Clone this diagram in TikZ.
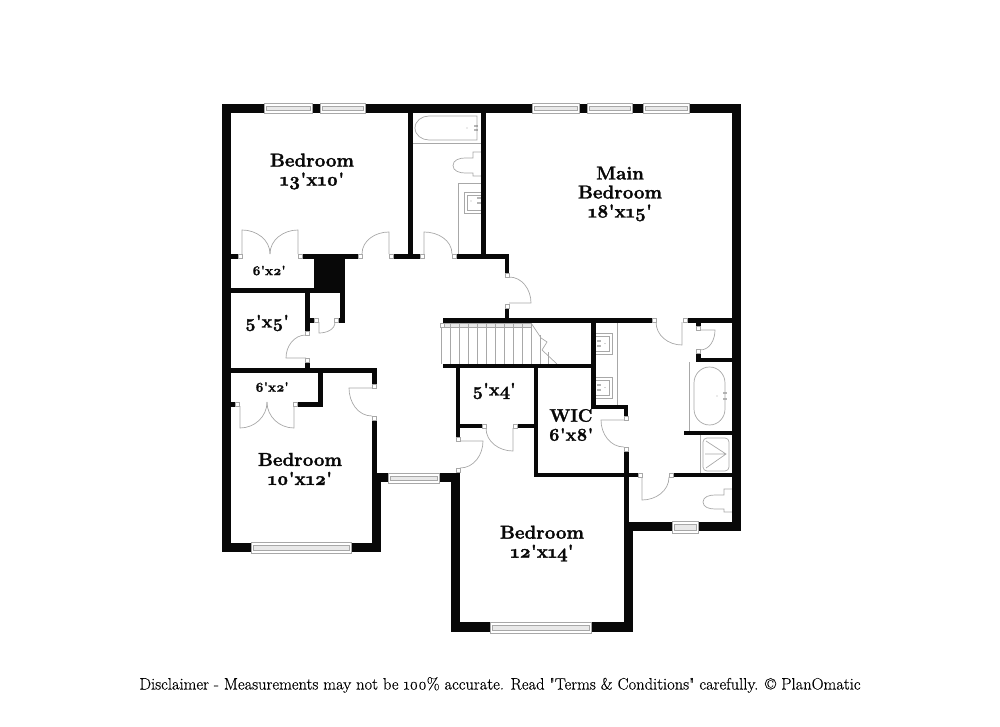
\documentclass[tikz,border=0pt]{standalone}
\usepackage{fontspec}
\newfontfamily\planfont[Numbers=OldStyle,BoldFeatures={FakeBold=1.6}]{Latin Modern Roman}
\newfontfamily\notefont[Numbers=OldStyle,FakeBold=0.35]{Latin Modern Roman}
\definecolor{WallClr}{rgb}{0.03,0.03,0.03}
\definecolor{FixClr}{rgb}{0.66,0.66,0.66}
\tikzset{
  wall/.style={fill=WallClr},
  fixture/.style={draw=FixClr,line width=0.7pt},
  leaf/.style={draw=FixClr,line width=0.7pt},
  jamb/.style={draw=FixClr,line width=0.5pt,fill=white},
  bigname/.style={font=\planfont\bfseries\fontsize{18.7}{19}\selectfont,align=center,text=WallClr,inner sep=0pt},
  midname/.style={font=\planfont\bfseries\fontsize{18}{19}\selectfont,align=center,text=WallClr,inner sep=0pt},
  smallname/.style={font=\planfont\bfseries\fontsize{13.5}{14}\selectfont,align=center,text=WallClr,inner sep=0pt}
}

\begin{document}
\begin{tikzpicture}[x=1pt,y=-1pt]
\useasboundingbox (0,0) rectangle (1000,727);

% fixtures under the walls
\draw[fixture] (412,143) -- (481,143);
\draw[fixture] (477,116) -- (429,116) to[out=180,in=90] (415,128) to[out=-90,in=180] (429,140) -- (477,140) -- cycle;
\draw[fixture] (481,152) -- (473,152) -- (473,158) -- (465,158) to[out=180,in=90] (453,165.5) to[out=-90,in=180] (465,173) -- (473,173) -- (473,176) -- (481,176);
\draw[fixture] (481,183) -- (458,183) -- (458,255);
\draw[fixture] (481,192) -- (464,192) -- (464,213) -- (481,213);
\draw[fixture] (481,195) -- (467,195) -- (467,210) -- (481,210);
\draw[fixture,line width=1pt] (617.5,322) -- (617.5,405);
\foreach \sy in {333,377}{
  \draw[fixture] (596,\sy) -- (612,\sy) -- (612,\sy+21) -- (596,\sy+21);
  \draw[fixture] (596,\sy+3) -- (609,\sy+3) -- (609,\sy+18) -- (596,\sy+18);
  \fill[FixClr] (605,\sy+10.5) circle (0.7);
  \fill[WallClr!60] (598,\sy+8) circle (0.8) (600,\sy+8) circle (0.8) (598,\sy+13) circle (0.8) (600,\sy+13) circle (0.8);
}
\foreach \dx/\dy in {475/126,477/126,475/130,477/130,478/198,480/198,478/203,480/203,724/393,726/393,724/399,726/399}{
  \fill[WallClr!60] (\dx,\dy) circle (0.8);
}
\fill[FixClr] (467,128) circle (0.7) (471,201) circle (0.7) (717,396) circle (0.7);
\draw[fixture] (689,431) -- (689,362) (689,431) -- (732,431);
\draw[fixture] (694,383) to[out=90,in=180] (709.5,367) to[out=0,in=90] (725,383) -- (725,409) to[out=-90,in=0] (709.5,425) to[out=180,in=-90] (694,409) -- cycle;
\draw[fixture] (700,435) -- (700,473);
\draw[fixture,rounded corners=4pt] (703,438) rectangle (729,471);
\draw[fixture] (706,441) -- (726,454) -- (706,468) (705,454) -- (726,454);
\draw[fixture] (732,489) -- (724,489) -- (724,495) -- (715,495) to[out=180,in=90] (703,502) to[out=-90,in=180] (715,509) -- (724,509) -- (724,512) -- (732,512);

% stairs
\draw[fixture,fill=FixClr!25] (440,323) rectangle (531,327);
\foreach \tx in {441,450,...,531}{
  \draw[fixture] (\tx,323) -- (\tx,364);
}
\draw[fixture] (531,323) -- (541,338) -- (547,342) -- (542,350) -- (557,364);
\draw[fixture] (540,335) -- (540,364) (548,352) -- (548,364);

% walls
\fill[wall] (222,104) rectangle (741,113);
\fill[wall] (222,104) rectangle (231,552);
\fill[wall] (732,104) rectangle (741,531);
\fill[wall] (222,543) rectangle (381,552);
\fill[wall] (372,473) rectangle (381,552);
\fill[wall] (372,473) rectangle (388,482);
\fill[wall] (439,473) rectangle (460,482);
\fill[wall] (451,473) rectangle (460,632);
\fill[wall] (451,622) rectangle (633,632);
\fill[wall] (624,522) rectangle (633,632);
\fill[wall] (624,522) rectangle (741,531);
\fill[wall] (408,113) rectangle (412.5,255);
\fill[wall] (481,113) rectangle (486,255);
\fill[wall] (231,254) rectangle (238,259);
\fill[wall] (303,254) rectangle (358,259);
\fill[wall] (394,254) rectangle (420,259);
\fill[wall] (456,254) rectangle (509,259);
\fill[wall] (505,254) rectangle (509,273);
\fill[wall] (505,308) rectangle (509,320);
\fill[wall] (443,318) rectangle (652,323);
\fill[wall] (687,318) rectangle (732,323);
\fill[wall] (314,259) rectangle (345,293);
\fill[wall] (231,288) rectangle (345,293);
\fill[wall] (340,293) rectangle (345,323);
\fill[wall] (338,318) rectangle (345,323);
\fill[wall] (305,293) rectangle (309.5,331);
\fill[wall] (305,318) rectangle (314,323);
\fill[wall] (305,362) rectangle (309.5,370);
\fill[wall] (231,368) rectangle (377,373);
\fill[wall] (372,368) rectangle (377,384);
\fill[wall] (372,420) rectangle (377,475);
\fill[wall] (318,373) rectangle (323,406);
\fill[wall] (297,402) rectangle (323,406.5);
\fill[wall] (231,402) rectangle (235,406.5);
\fill[wall] (443,364) rectangle (591,368);
\fill[wall] (591,318) rectangle (596,409);
\fill[wall] (591,405) rectangle (628,409);
\fill[wall] (624,405) rectangle (628,416);
\fill[wall] (624,451) rectangle (629,522);
\fill[wall] (534,473) rectangle (638,477);
\fill[wall] (673,473) rectangle (732,477);
\fill[wall] (534,368) rectangle (538,477);
\fill[wall] (456,368) rectangle (460,437);
\fill[wall] (456,424) rectangle (482,428);
\fill[wall] (517,424) rectangle (534,428);
\fill[wall] (696,318) rectangle (701,326);
\fill[wall] (696,353) rectangle (701,362);
\fill[wall] (696,358) rectangle (732,362);
\fill[wall] (684,431) rectangle (732,435);

% windows
\foreach \xa/\xb/\ya/\yb in {264/312/103/113,320/365/103/113,532/579/103/113,587/632/103/113,643/689/103/113,251/351/542/553,388/439/473/483,490/591/622/633,672/698/521/533}{
  \draw[fixture,fill=white] (\xa,\ya) rectangle (\xb,\yb);
  \draw[fixture,line width=0.5pt,fill=FixClr!25] (\xa+2,\ya+3) rectangle (\xb-2,\yb-3);
}

% door leaves
\draw[leaf] (242,254) -- (242,230) to[out=0,in=90] (270,254);
\draw[leaf] (298,254) -- (298,230) to[out=180,in=90] (270,254);
\draw[leaf] (389,254) -- (389,232) to[out=180,in=90] (362,254);
\draw[leaf] (424,254) -- (424,232) to[out=0,in=90] (452,254);
\draw[leaf] (319,322) -- (319,333) to[out=0,in=-90] (335,322);
\draw[leaf] (306,358) -- (286,358) to[out=90,in=180] (306,335);
\draw[leaf] (240,406) -- (240,428) to[out=0,in=-90] (267,402);
\draw[leaf] (294,406) -- (294,428) to[out=180,in=-90] (267,402);
\draw[leaf] (372,388) -- (349,388) to[out=-90,in=180] (372,416);
\draw[leaf] (509,303) -- (531,303) to[out=90,in=0] (509,277);
\draw[leaf] (682,322) -- (682,345) to[out=180,in=-90] (656,322);
\draw[leaf] (700,330) -- (715,330) to[out=-90,in=0] (700,350);
\draw[leaf] (624,420) -- (601,420) to[out=-90,in=180] (624,447);
\draw[leaf] (513,428) -- (513,451) to[out=180,in=-90] (486,428);
\draw[leaf] (460,441) -- (483,441) to[out=-90,in=0] (460,468);
\draw[leaf] (642,477) -- (642,500) to[out=0,in=-90] (669,477);

% door jambs
\foreach \jx/\jy in {238/254.5,298.5/254.5,358/254.5,389.5/254.5,420/254.5,452/254.5,314.5/318.5,334/318.5,305.5/331,305.5/358,235/402,293/402,372.5/384,372.5/416,505/273,505/304,652/318.5,683/318.5,696.5/326,696.5/349,624/416,624/447,482/424,513/424,456/437,456/468.5,638/473,669/473}{
  \draw[jamb] (\jx,\jy) rectangle (\jx+4,\jy+4);
}
\draw[jamb] (440,323) rectangle (444,327);

% room names
\node[bigname] (bedroomA) at (312,171.5) {Bedroom\\13'x10'};
\node[bigname] (mainroom) at (620,194) {Main\\Bedroom\\18'x15'};
\node[bigname] (bedroomB) at (300,469) {Bedroom\\10'x12'};
\node[bigname] (bedroomC) at (542,543.5) {Bedroom\\12'x14'};
\node[midname] (wicroom) at (571,425) {WIC\\6'x8'};
\node[midname] (closetA) at (267,323) {5'x5'};
\node[midname] (closetB) at (494,391) {5'x4'};
\node[smallname] (closetC) at (269,270.5) {6'x2'};
\node[smallname] (closetD) at (272,387) {6'x2'};
\node[font=\notefont\fontsize{16.5}{18}\selectfont,inner sep=0pt] (disclaimer) at (500,685) {Disclaimer - Measurements may not be 100\% accurate. Read "Terms \& Conditions" carefully. © PlanOmatic};

\end{tikzpicture}
\end{document}
